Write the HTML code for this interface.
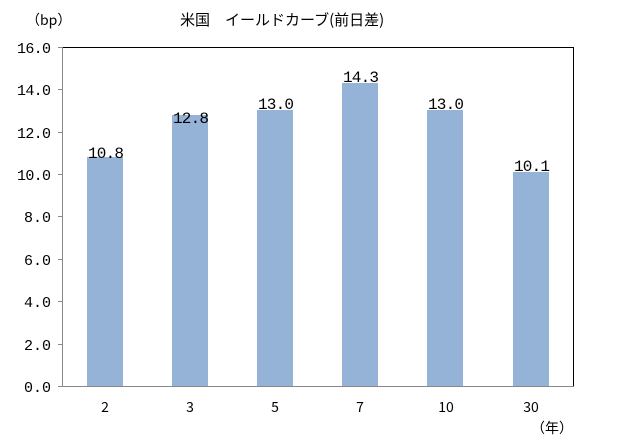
<!DOCTYPE html>
<html><head><meta charset="utf-8"><style>
body{margin:0;background:#fff;}
text{font-family:"Liberation Mono","Noto Sans CJK JP",monospace;fill:#000;}
.j{font-family:"Noto Sans CJK JP","Liberation Sans",sans-serif;}
</style></head><body>
<svg width="626" height="440" xmlns="http://www.w3.org/2000/svg">
<rect width="626" height="440" fill="#fff"/>
<text class="j" x="26" y="25" font-size="14">（bp）</text>
<text class="j" x="180" y="25" font-size="15">米国　イールドカーブ(前日差)</text>
<g font-size="15" text-anchor="end">
<text x="51" y="392">0.0</text>
<text x="51" y="350">2.0</text>
<text x="51" y="307">4.0</text>
<text x="51" y="265">6.0</text>
<text x="51" y="222">8.0</text>
<text x="51" y="180" textLength="34">10.0</text>
<text x="51" y="138" textLength="34">12.0</text>
<text x="51" y="95" textLength="34">14.0</text>
<text x="51" y="53" textLength="34">16.0</text>
</g>
<g stroke="#888" stroke-width="1">
<line x1="58" y1="386.5" x2="62" y2="386.5"/><line x1="58" y1="344.5" x2="62" y2="344.5"/>
<line x1="58" y1="301.5" x2="62" y2="301.5"/><line x1="58" y1="259.5" x2="62" y2="259.5"/>
<line x1="58" y1="216.5" x2="62" y2="216.5"/><line x1="58" y1="174.5" x2="62" y2="174.5"/>
<line x1="58" y1="132.5" x2="62" y2="132.5"/><line x1="58" y1="89.5" x2="62" y2="89.5"/>
<line x1="58" y1="47.5" x2="62" y2="47.5"/>
</g>
<g fill="#95b3d7">
<rect x="87" y="157" width="36" height="229"/>
<rect x="172" y="115" width="36" height="271"/>
<rect x="257" y="110" width="36" height="276"/>
<rect x="342" y="83" width="36" height="303"/>
<rect x="427" y="110" width="36" height="276"/>
<rect x="513" y="172" width="36" height="214"/>
</g>
<g font-size="16" text-anchor="middle">
<text x="106" y="158" textLength="36">10.8</text>
<text x="191" y="123" textLength="36">12.8</text>
<text x="276" y="109" textLength="36">13.0</text>
<text x="361" y="82" textLength="36">14.3</text>
<text x="446" y="109" textLength="36">13.0</text>
<text x="532" y="171" textLength="36">10.1</text>
</g>
<line x1="62" y1="47.5" x2="573.5" y2="47.5" stroke="#000"/>
<line x1="573.5" y1="47" x2="573.5" y2="386.5" stroke="#000"/>
<line x1="62.5" y1="47" x2="62.5" y2="387" stroke="#888"/>
<line x1="62" y1="386.5" x2="574" y2="386.5" stroke="#888"/>
<g font-size="14" text-anchor="middle" class="j">
<text class="j" x="105" y="412">2</text>
<text class="j" x="190" y="412">3</text>
<text class="j" x="275" y="412">5</text>
<text class="j" x="360" y="412">7</text>
<text class="j" x="446" y="412">10</text>
<text class="j" x="531" y="412">30</text>
</g>
<text class="j" x="552" y="433" font-size="14" text-anchor="middle">（年）</text>
</svg>
</body></html>
